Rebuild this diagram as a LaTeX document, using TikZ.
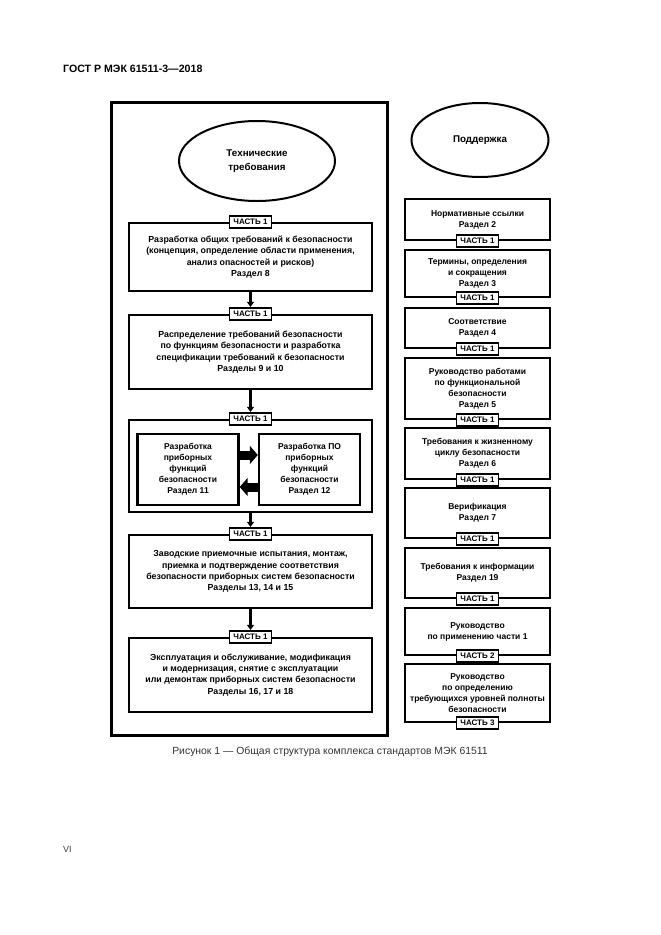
\documentclass[tikz,border=0pt]{standalone}
\usepackage{fontspec}
\setmainfont{Liberation Sans}
\usetikzlibrary{arrows.meta,shapes.geometric}
\begin{document}
\begin{tikzpicture}[x=1pt,y=-1pt,
  boxtext/.style={align=center, font=\fontsize{8.5}{11}\selectfont\bfseries, inner sep=0pt},
  lbox/.style={boxtext, font=\fontsize{8.8}{11.2}\selectfont\bfseries, draw, line width=2.4pt, minimum width=243pt},
  ibox/.style={boxtext, draw, line width=2.4pt, minimum width=101pt, minimum height=71pt},
  rbox/.style={boxtext, draw, line width=2.4pt, minimum width=145pt},
  tagbox/.style={draw, fill=white, line width=1.8pt, font=\fontsize{8}{9}\selectfont\bfseries, minimum width=42pt, minimum height=12pt, inner sep=1pt},
  oval/.style={ellipse, draw, line width=2pt, boxtext, font=\fontsize{9.8}{14}\selectfont\bfseries},
  conn/.style={line width=2.4pt, -{Triangle[width=7pt,length=5pt]}},
  fat/.style={line width=9pt, -{Triangle[width=18pt,length=8pt]}}
]
\useasboundingbox (0,0) rectangle (661,935);

\node[anchor=west, inner sep=0pt, font=\fontsize{10.6}{12}\selectfont\bfseries] (hdr) at (63,69) {ГОСТ Р МЭК 61511-3—2018};

% left frame
\node[draw, line width=3pt, minimum width=276pt, minimum height=633pt, inner sep=0pt] (outer) at (249,418.5) {};

\node[oval, minimum width=156pt, minimum height=80pt] (e1) at (257,161) {Технические\\требования};

\node[lbox, minimum height=68pt] (b1) at (250.5,257) {Разработка общих требований к безопасности\\(концепция, определение области применения,\\анализ опасностей и рисков)\\Раздел 8};
\node[tagbox] (t1) at (b1.north) {ЧАСТЬ 1};

\node[lbox, minimum height=74pt] (b2) at (250.5,352) {Распределение требований безопасности\\по функциям безопасности и разработка\\спецификации требований к безопасности\\Разделы 9 и 10};
\node[tagbox] (t2) at (b2.north) {ЧАСТЬ 1};

\node[lbox, minimum height=92pt] (b3) at (250.5,466) {};
\node[tagbox] (t3) at (b3.north) {ЧАСТЬ 1};
\node[ibox] (il) at (188,469.5) {Разработка\\приборных\\функций\\безопасности\\Раздел 11};
\node[ibox] (ir) at (309.5,469.5) {Разработка ПО\\приборных\\функций\\безопасности\\Раздел 12};
\coordinate (h1) at (0,455);
\coordinate (h2) at (0,487);
\draw[fat] (il.east |- h1) -- (ir.west |- h1);
\draw[fat] (ir.west |- h2) -- (il.east |- h2);

\node[lbox, minimum height=73pt] (b4) at (250.5,571.5) {Заводские приемочные испытания, монтаж,\\приемка и подтверждение соответствия\\безопасности приборных систем безопасности\\Разделы 13, 14 и 15};
\node[tagbox] (t4) at (b4.north) {ЧАСТЬ 1};

\node[lbox, minimum height=74pt] (b5) at (250.5,675) {Эксплуатация и обслуживание, модификация\\и модернизация, снятие с эксплуатации\\или демонтаж приборных систем безопасности\\Разделы 16, 17 и 18};
\node[tagbox] (t5) at (b5.north) {ЧАСТЬ 1};

\draw[conn] (b1.south) -- (t2.north);
\draw[conn] (b2.south) -- (t3.north);
\draw[conn] (b3.south) -- (t4.north);
\draw[conn] (b4.south) -- (t5.north);

% right column
\node[oval, minimum width=137pt, minimum height=74pt] (e2) at (480,140) {Поддержка};

\node[rbox, minimum height=41pt] (r1) at (477.5,219.5) {Нормативные ссылки\\Раздел 2};
\node[tagbox] (s1) at (r1.south) {ЧАСТЬ 1};
\node[rbox, minimum height=47pt] (r2) at (477.5,273.5) {Термины, определения\\и сокращения\\Раздел 3};
\node[tagbox] (s2) at (r2.south) {ЧАСТЬ 1};
\node[rbox, minimum height=40pt] (r3) at (477.5,328) {Соответствие\\Раздел 4};
\node[tagbox] (s3) at (r3.south) {ЧАСТЬ 1};
\node[rbox, minimum height=61pt] (r4) at (477.5,388.5) {Руководство работами\\по функциональной\\безопасности\\Раздел 5};
\node[tagbox] (s4) at (r4.south) {ЧАСТЬ 1};
\node[rbox, minimum height=51pt] (r5) at (477.5,453.5) {Требования к жизненному\\циклу безопасности\\Раздел 6};
\node[tagbox] (s5) at (r5.south) {ЧАСТЬ 1};
\node[rbox, minimum height=50pt] (r6) at (477.5,513) {Верификация\\Раздел 7};
\node[tagbox] (s6) at (r6.south) {ЧАСТЬ 1};
\node[rbox, minimum height=50pt] (r7) at (477.5,573) {Требования к информации\\Раздел 19};
\node[tagbox] (s7) at (r7.south) {ЧАСТЬ 1};
\node[rbox, minimum height=47pt] (r8) at (477.5,631.5) {Руководство\\по применению части 1};
\node[tagbox] (s8) at (r8.south) {ЧАСТЬ 2};
\node[rbox, minimum height=58pt] (r9) at (477.5,693) {Руководство\\по определению\\требующихся уровней полноты\\безопасности};
\node[tagbox] (s9) at (r9.south) {ЧАСТЬ 3};

\node[font=\fontsize{10.4}{12}\selectfont, text=black!80] (cap) at (330,752) {Рисунок 1 — Общая структура комплекса стандартов МЭК 61511};
\node[anchor=west, inner sep=0pt, font=\fontsize{9}{11}\selectfont, text=black!75] (pg) at (63,849) {VI};
\end{tikzpicture}
\end{document}
